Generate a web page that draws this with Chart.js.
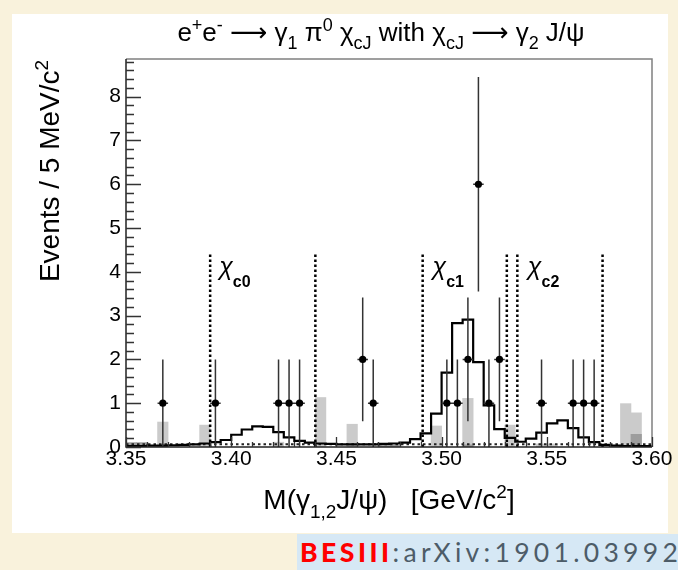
<!DOCTYPE html>
<html><head><meta charset="utf-8">
<script src="https://cdn.jsdelivr.net/npm/chart.js@4.4.0/dist/chart.umd.min.js"></script>
<style>
html,body{margin:0;padding:0;width:678px;height:570px;overflow:hidden;background:#f9f2dc;}
#panel{position:absolute;left:12px;top:14px;width:656px;height:519px;background:#fff;}
#c{position:absolute;left:0;top:0;}
#src{position:absolute;left:297px;top:534px;width:381px;height:36px;background:#d6e8f5;font-family:Lato,sans-serif;font-size:26.5px;letter-spacing:4.3px;line-height:36px;white-space:nowrap;overflow:hidden;color:#4d5c68;padding-left:3px;box-sizing:border-box;}
#src b{color:#ff0000;font-weight:900;letter-spacing:3.5px;}
</style></head>
<body>
<div id="panel"></div>
<div id="src"><b>BESIII</b>:arXiv:1901.03992</div>
<canvas id="c" width="678" height="570"></canvas>
<script>
// ---- data ----
const binEdges = [3.350,3.355,3.360,3.365,3.370,3.375,3.380,3.385,3.390,3.395,3.400,3.405,3.410,3.415,3.420,3.425,3.430,3.435,3.440,3.445,3.450,3.455,3.460,3.465,3.470,3.475,3.480,3.485,3.490,3.495,3.500,3.505,3.510,3.515,3.520,3.525,3.530,3.535,3.540,3.545,3.550,3.555,3.560,3.565,3.570,3.575,3.580,3.585,3.590,3.595,3.600];
const mcShape = [0.02,0.02,0.03,0.03,0.04,0.05,0.06,0.08,0.11,0.16,
                 0.28,0.40,0.47,0.46,0.34,0.22,0.14,0.10,0.08,0.07,
                 0.06,0.06,0.06,0.06,0.07,0.08,0.10,0.18,0.31,0.76,
                 1.70,2.83,2.91,1.94,0.95,0.41,0.21,0.12,0.19,0.33,
                 0.54,0.61,0.43,0.22,0.11,0.05,0.03,0.02,0.02,0.02];
const dataMass = [3.3675,3.3925,3.4225,3.4275,3.4325,3.4625,3.4675,3.5025,3.5075,3.5125,3.5175,3.5225,3.5275,3.5475,3.5625,3.5675,3.5725];
const dataCounts = [1,1,1,1,1,2,1,1,1,2,6,1,2,1,1,1,1];
const sbLightMass = [3.3675,3.3875,3.4225,3.4425,3.4575,3.4975,3.5125,3.5325,3.5475,3.5525,3.5875,3.5925];
const sbLightVal  = [0.57,0.50,0.11,1.13,0.52,0.48,1.11,0.50,0.07,0.07,0.99,0.78];
const sbDarkMass = [3.3525,3.3575,3.4725,3.4775,3.5125,3.5925];
const sbDarkVal  = [0.10,0.10,0.04,0.04,0.05,0.29];
const bgMass = [3.35,3.60];
const bgVal  = [0.06,0.06];
const windowEdges = [3.390,3.440,3.491,3.531,3.536,3.5765];
const windowTop = 4.43;
const peakNames = ['c0','c1','c2'];
const peakLabelMass = [3.3943,3.4957,3.5410];
const peakLabelY = 3.93;
const xTicks = [3.35,3.40,3.45,3.50,3.55,3.60];
const yTicks = [0,1,2,3,4,5,6,7,8];

// ---- derived datasets ----
const histPts = binEdges.map((e,i)=>({x:e, y:mcShape[Math.min(i,mcShape.length-1)]}));
const errPts = [];
dataMass.forEach((m,i)=>{
  const n = dataCounts[i], s = Math.sqrt(n);
  errPts.push({x:m,y:n-s},{x:m,y:n+s},{x:m,y:null});
  errPts.push({x:m-0.0025,y:n},{x:m+0.0025,y:n},{x:m,y:null});
});
const winPts = [];
windowEdges.forEach(e=>{ winPts.push({x:e,y:0},{x:e,y:windowTop},{x:e,y:null}); });

const FONT = "'Liberation Sans', 'DejaVu Sans', Arial, sans-serif";

function drawRich(ctx, parts, x, y, align){
  let w = 0;
  parts.forEach(p=>{ ctx.font = p.font; w += ctx.measureText(p.t).width; });
  let cx = align==='center' ? x - w/2 : (align==='right' ? x - w : x);
  ctx.textAlign = 'left'; ctx.textBaseline = 'alphabetic';
  parts.forEach(p=>{ ctx.font = p.font; ctx.fillText(p.t, cx, y + (p.dy||0)); cx += ctx.measureText(p.t).width; });
}

const decor = {
  id:'decor',
  afterDatasetsDraw(chart){
    const {ctx, chartArea:a, scales:{x,y}} = chart;
    ctx.save();
    // frame
    ctx.strokeStyle = '#808080'; ctx.lineWidth = 1.5;
    ctx.beginPath(); ctx.moveTo(a.left,a.top); ctx.lineTo(a.right,a.top); ctx.lineTo(a.right,a.bottom); ctx.stroke();
    ctx.strokeStyle = '#222'; ctx.lineWidth = 1.5;
    ctx.beginPath(); ctx.moveTo(a.left,a.top); ctx.lineTo(a.left,a.bottom); ctx.lineTo(a.right,a.bottom); ctx.stroke();
    // y ticks (inside)
    ctx.lineWidth = 1.3; ctx.strokeStyle = '#333';
    ctx.beginPath();
    for (let i=0;i<=44;i++){
      const v = i*0.2; if (v > y.max) break;
      const py = Math.round(y.getPixelForValue(v))+0.5;
      const len = (i%5===0) ? 15 : 8;
      ctx.moveTo(a.left,py); ctx.lineTo(a.left+len,py);
    }
    // x ticks (inside)
    for (let i=0;i<=25;i++){
      const v = 3.35 + i*0.01;
      const px = Math.round(x.getPixelForValue(v))+0.5;
      const len = (i%5===0) ? 10 : 5;
      ctx.moveTo(px,a.bottom); ctx.lineTo(px,a.bottom-len);
    }
    ctx.stroke();
    ctx.restore();
  },
  afterDraw(chart){
    const {ctx, chartArea:a, scales:{x,y}} = chart;
    ctx.save();
    ctx.fillStyle = '#000';
    const F = 26, S = 18;
    const m = F+'px '+FONT, s = S+'px '+FONT;
    // title
    drawRich(ctx, [
      {t:'e',font:m},{t:'+',font:s,dy:-10},{t:'e',font:m},{t:'-',font:s,dy:-10},
      {t:' \u27f6 \u03b3',font:m},{t:'1',font:s,dy:8},{t:' \u03c0',font:m},{t:'0',font:s,dy:-10},
      {t:' \u03c7',font:m},{t:'cJ',font:s,dy:8},{t:' with \u03c7',font:m},{t:'cJ',font:s,dy:8},
      {t:' \u27f6 \u03b3',font:m},{t:'2',font:s,dy:8},{t:' J/\u03c8',font:m}
    ], 381, 41, 'center');
    // x title
    const XM = '28px '+FONT, XS = '19px '+FONT;
    drawRich(ctx, [
      {t:'M(\u03b3',font:XM},{t:'1,2',font:XS,dy:9},{t:'J/\u03c8)   [GeV/c',font:XM},{t:'2',font:XS,dy:-11},{t:']',font:XM}
    ], 389, 509, 'center');
    // y title
    ctx.save();
    ctx.translate(59, 171); ctx.rotate(-Math.PI/2);
    drawRich(ctx, [{t:'Events / 5 MeV/c',font:XM},{t:'2',font:XS,dy:-11}], 0, 0, 'center');
    ctx.restore();
    // chi labels
    peakNames.forEach((n,i)=>{
      const px = x.getPixelForValue(peakLabelMass[i]);
      const py = y.getPixelForValue(peakLabelY);
      drawRich(ctx, [{t:'\u03c7',font:'italic 25px '+FONT},{t:n,font:'bold 16px '+FONT,dy:12}], px, py, 'left');
    });
    ctx.restore();
  }
};

new Chart(document.getElementById('c'), {
  type:'line',
  data:{ datasets:[
    {type:'scatter', data:dataMass.map((m,i)=>({x:m,y:dataCounts[i]})), pointRadius:3.6, pointBackgroundColor:'#000', pointBorderWidth:0, showLine:false, order:0},
    {type:'line', data:errPts, borderColor:'#333', borderWidth:1.5, pointRadius:0, spanGaps:false, fill:false, order:1},
    {type:'line', data:histPts, borderColor:'#000', borderWidth:2.2, pointRadius:0, stepped:true, fill:false, order:2},
    {type:'line', data:winPts, borderColor:'#000', borderWidth:2.5, borderDash:[2.5,2.5], pointRadius:0, spanGaps:false, fill:false, order:3},
    {type:'line', data:bgMass.map((m,i)=>({x:m,y:bgVal[i]})), borderColor:'#222', borderWidth:2, borderDash:[2.5,3], pointRadius:0, fill:false, order:4},
    {type:'bar', data:sbDarkMass.map((m,i)=>({x:m,y:sbDarkVal[i]})), backgroundColor:'#9d9d9d', borderWidth:0, barPercentage:1, categoryPercentage:1, grouped:false, order:5},
    {type:'bar', data:sbLightMass.map((m,i)=>({x:m,y:sbLightVal[i]})), backgroundColor:'#cbcbcb', borderWidth:0, barPercentage:1, categoryPercentage:1, grouped:false, order:6}
  ]},
  options:{
    responsive:false, animation:false, devicePixelRatio:1,
    layout:{padding:{left:0,right:26,top:59,bottom:0}},
    plugins:{legend:{display:false}, tooltip:{enabled:false}, title:{display:false}},
    scales:{
      x:{type:'linear', min:3.35, max:3.60, offset:false,
         afterBuildTicks:s=>{ s.ticks = xTicks.map(v=>({value:v})); },
         afterFit:s=>{ s.height = 123; },
         ticks:{font:{family:FONT,size:21}, color:'#000', padding:0, maxRotation:0, autoSkip:false, callback:v=>Number(v).toFixed(2)},
         grid:{display:false, drawTicks:false}, border:{display:false}},
      y:{type:'linear', min:0, max:8.86,
         afterBuildTicks:s=>{ s.ticks = yTicks.map(v=>({value:v})); },
         afterFit:s=>{ s.width = 126; },
         ticks:{font:{family:FONT,size:21}, color:'#000', padding:5, callback:v=>String(v)},
         grid:{display:false, drawTicks:false}, border:{display:false}}
    }
  },
  plugins:[decor]
});
</script>
</body></html>
